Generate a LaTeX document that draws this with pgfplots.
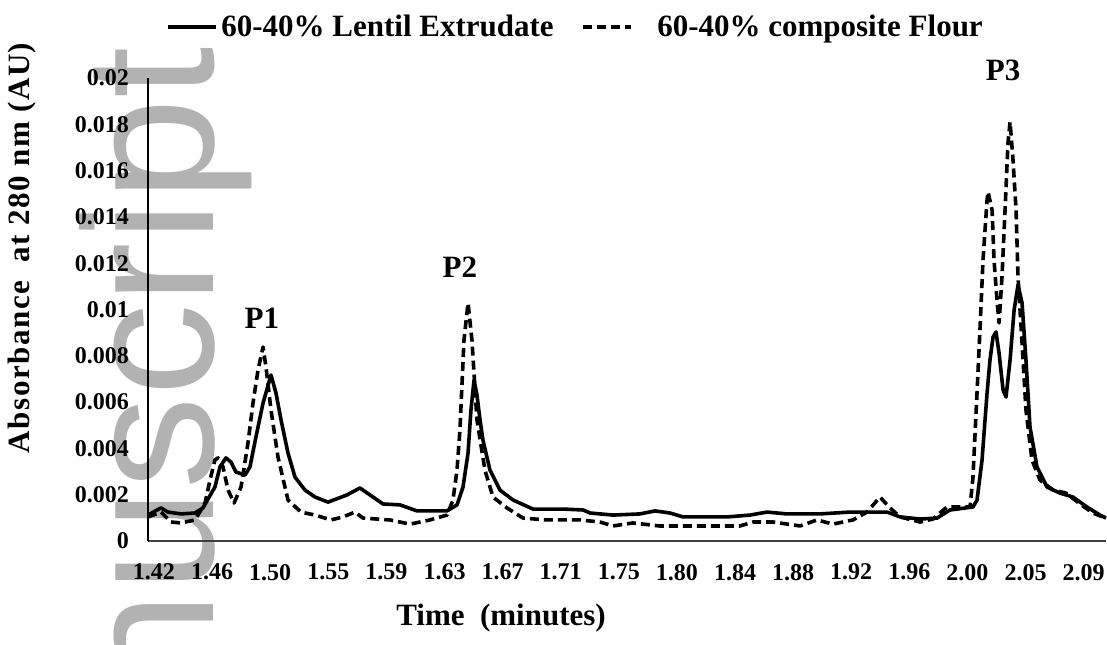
\documentclass[border=0pt]{standalone}
\usepackage{fontspec}
\setmainfont{Liberation Serif}
\newfontfamily\wmfont{Liberation Sans}
\newfontfamily\ylabfont[LetterSpace=5]{Liberation Serif}
\usepackage{pgfplots}
\pgfplotsset{compat=1.18}
\definecolor{wm}{RGB}{178,178,178}
\begin{document}
\begin{tikzpicture}
\useasboundingbox (-74pt,-51.5pt) rectangle (479.5pt,270.5pt);
\node[rotate=90, anchor=base east, inner sep=0pt, text=wm, font=\wmfont\fontsize{92.5}{100}\selectfont] at (32.5pt,247pt) {nuscript};
\begin{axis}[
  at={(0pt,0pt)}, anchor=south west,
  scale only axis, width=479pt, height=231.5pt,
  xmin=1.4157, xmax=2.1027, ymin=0, ymax=0.02,
  axis lines=left,
  axis line style={-, line width=0.6pt},
  x axis line style={draw=black!75},
  clip=false,
  scaled y ticks=false, scaled x ticks=false,
  major tick length=0pt,
  tick style={draw=none},
  xtick={1.42,1.461667,1.503333,1.545,1.586667,1.628333,1.67,1.711667,1.753333,1.795,1.836667,1.878333,1.92,1.961667,2.003333,2.045,2.086667},
  xticklabels={1.42,1.46,1.50,1.55,1.59,1.63,1.67,1.71,1.75,1.80,1.84,1.88,1.92,1.96,2.00,2.05,2.09},
  ytick={0,0.002,0.004,0.006,0.008,0.01,0.012,0.014,0.016,0.018,0.02},
  yticklabels={0,0.002,0.004,0.006,0.008,0.01,0.012,0.014,0.016,0.018,0.02},
  ticklabel style={font=\bfseries\fontsize{12}{14}\selectfont},
  yticklabel style={anchor=east, xshift=-6pt},
  xticklabel style={anchor=north, yshift=-8pt},
  xlabel={Time\ \ (minutes)},
  ylabel={\ylabfont Absorbance\ \ at 280 nm (AU)},
  label style={font=\bfseries\fontsize{15.5}{18}\selectfont},
  xlabel style={at={(axis description cs:0.3685,-0.166)}, anchor=center},
  ylabel style={at={(axis description cs:-0.1315,0.633)}, anchor=center, rotate=0},
  legend style={draw=none, fill=none, at={(axis description cs:0.447,1.110)}, anchor=center,
    legend columns=2, font=\bfseries\fontsize{15.5}{18}\selectfont,
    /tikz/every even column/.append style={column sep=12pt}},
  legend image code/.code={\draw[#1] (0pt,0pt) -- (24pt,0pt);},
]
\addplot[black, line width=1.8pt, line join=round] coordinates {
(1.4157,0.00112)(1.4250,0.00143)(1.4300,0.00125)(1.4394,0.00117)(1.4494,0.00121)
(1.4551,0.00143)(1.4637,0.00233)(1.4673,0.00320)(1.4716,0.00359)(1.4752,0.00341)
(1.4788,0.00298)(1.4853,0.00285)(1.4888,0.00320)(1.4931,0.00449)(1.4982,0.00596)
(1.5039,0.00717)(1.5075,0.00639)(1.5111,0.00523)(1.5161,0.00380)(1.5211,0.00276)
(1.5283,0.00220)(1.5355,0.00190)(1.5448,0.00168)(1.5584,0.00199)(1.5677,0.00229)
(1.5749,0.00199)(1.5842,0.00160)(1.5964,0.00156)(1.6086,0.00130)(1.6301,0.00130)
(1.6373,0.00156)(1.6416,0.00233)(1.6452,0.00380)(1.6473,0.00566)(1.6495,0.00695)
(1.6516,0.00631)(1.6538,0.00523)(1.6559,0.00436)(1.6609,0.00307)(1.6681,0.00220)
(1.6775,0.00177)(1.6918,0.00138)(1.7133,0.00138)(1.7277,0.00134)(1.7327,0.00121)
(1.7492,0.00112)(1.7685,0.00117)(1.7793,0.00130)(1.7900,0.00121)(1.7994,0.00104)
(1.8309,0.00104)(1.8474,0.00112)(1.8596,0.00125)(1.8739,0.00117)(1.8976,0.00117)
(1.9191,0.00125)(1.9457,0.00125)(1.9550,0.00104)(1.9693,0.00095)(1.9815,0.00099)
(1.9908,0.00134)(2.0073,0.00147)(2.0102,0.00177)(2.0138,0.00350)(2.0174,0.00639)
(2.0195,0.00782)(2.0217,0.00881)(2.0238,0.00903)(2.0260,0.00812)(2.0289,0.00652)
(2.0310,0.00622)(2.0339,0.00782)(2.0368,0.00998)(2.0396,0.01106)(2.0425,0.01028)
(2.0453,0.00782)(2.0482,0.00492)(2.0532,0.00320)(2.0604,0.00233)(2.0697,0.00207)
(2.0790,0.00190)(2.0890,0.00147)(2.0984,0.00112)(2.1027,0.00099)
};
\addlegendentry{60-40\% Lentil Extrudate}
\addplot[black, line width=1.8pt, dash pattern=on 4.5pt off 2.5pt, line join=round] coordinates {
(1.4157,0.00104)(1.4250,0.00125)(1.4322,0.00082)(1.4394,0.00078)(1.4494,0.00091)
(1.4566,0.00164)(1.4602,0.00264)(1.4637,0.00350)(1.4659,0.00359)(1.4695,0.00320)
(1.4731,0.00220)(1.4774,0.00164)(1.4824,0.00233)(1.4874,0.00423)(1.4910,0.00596)
(1.4946,0.00739)(1.4982,0.00838)(1.5003,0.00752)(1.5039,0.00566)(1.5089,0.00363)
(1.5161,0.00177)(1.5254,0.00125)(1.5355,0.00112)(1.5469,0.00091)(1.5555,0.00104)
(1.5641,0.00125)(1.5699,0.00099)(1.5892,0.00091)(1.6036,0.00073)(1.6179,0.00091)
(1.6301,0.00112)(1.6344,0.00177)(1.6373,0.00307)(1.6394,0.00479)(1.6423,0.00868)
(1.6452,0.01028)(1.6480,0.00868)(1.6516,0.00523)(1.6573,0.00307)(1.6631,0.00190)
(1.6731,0.00143)(1.6846,0.00099)(1.7018,0.00091)(1.7255,0.00091)(1.7398,0.00082)
(1.7492,0.00065)(1.7635,0.00078)(1.7824,0.00065)(1.8402,0.00065)(1.8496,0.00082)
(1.8639,0.00082)(1.8833,0.00065)(1.8954,0.00091)(1.9069,0.00073)(1.9212,0.00091)
(1.9313,0.00125)(1.9406,0.00190)(1.9478,0.00143)(1.9550,0.00104)(1.9693,0.00082)
(1.9786,0.00095)(1.9887,0.00147)(2.0052,0.00147)(2.0073,0.00276)(2.0102,0.00639)
(2.0124,0.00924)(2.0145,0.01214)(2.0174,0.01473)(2.0181,0.01508)(2.0210,0.01430)
(2.0224,0.01214)(2.0245,0.01041)(2.0260,0.00942)(2.0281,0.01140)(2.0303,0.01430)
(2.0324,0.01719)(2.0339,0.01810)(2.0360,0.01646)(2.0382,0.01430)(2.0396,0.01140)
(2.0425,0.00855)(2.0453,0.00566)(2.0496,0.00350)(2.0553,0.00264)(2.0647,0.00220)
(2.0740,0.00207)(2.0832,0.00164)(2.0932,0.00121)(2.1027,0.00099)
};
\addlegendentry{\hspace{10pt}60-40\% composite Flour}
\node[font=\bfseries\fontsize{15.5}{18}\selectfont] at (axis cs:1.4974,0.00963) {P1};
\node[font=\bfseries\fontsize{15.5}{18}\selectfont] at (axis cs:1.6394,0.01184) {P2};
\node[font=\bfseries\fontsize{15.5}{18}\selectfont] at (axis cs:2.0289,0.02035) {P3};
\end{axis}
\end{tikzpicture}
\end{document}
